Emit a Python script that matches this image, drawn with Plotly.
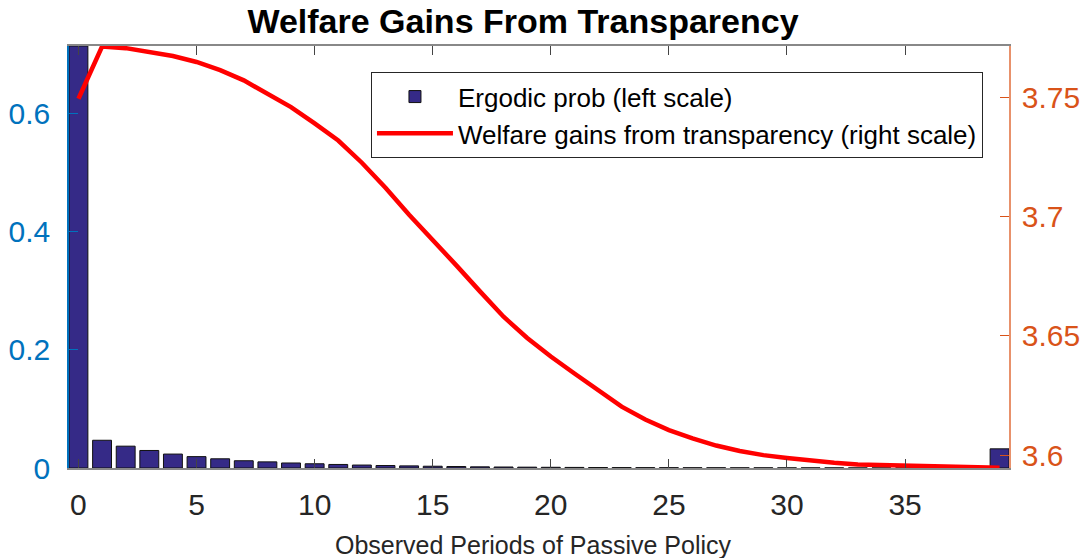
import plotly.graph_objects as go

periods = list(range(40))
ergodic_prob = [0.715, 0.047, 0.037, 0.0297, 0.0236, 0.0193, 0.0156, 0.0123, 0.0104, 0.0085,
                0.0072, 0.0060, 0.0050, 0.0042, 0.0036, 0.0030, 0.0025, 0.0020, 0.0017, 0.0014,
                0.0012, 0.0010, 0.0008, 0.0007, 0.0006, 0.0005, 0.0004, 0.0004, 0.0003, 0.0003,
                0.0002, 0.0002, 0.0002, 0.0001, 0.0001, 0.0001, 0.0001, 0.0001, 0.0001, 0.0325]
welfare_gains = [3.7493, 3.7712, 3.7705, 3.7690, 3.7672, 3.7647, 3.7613, 3.7570, 3.7515, 3.7458,
                 3.7390, 3.7318, 3.7225, 3.7120, 3.7007, 3.6903, 3.6795, 3.6686, 3.6580, 3.6491,
                 3.6413, 3.6342, 3.6272, 3.6203, 3.6149, 3.6105, 3.6070, 3.6040, 3.6017, 3.6000,
                 3.5988, 3.5977, 3.5968, 3.5961, 3.5958, 3.5955, 3.5952, 3.5950, 3.5948, 3.5947]
x_ticks = [0, 5, 10, 15, 20, 25, 30, 35]
left_ticks = [0, 0.2, 0.4, 0.6]
right_ticks = [3.6, 3.65, 3.7, 3.75]

FONT = "Liberation Sans, Arial, Helvetica, sans-serif"
BLUE = "#0072BD"
ORANGE = "#D95319"

W, H = 1085, 558

fig = go.Figure()
fig.add_trace(go.Bar(
    x=periods, y=ergodic_prob, width=0.8,
    marker=dict(color="#352A87", line=dict(color="#111111", width=1)),
    name="Ergodic prob (left scale)", yaxis="y",
))
fig.add_trace(go.Scatter(
    x=periods, y=welfare_gains, mode="lines",
    line=dict(color="#FF0000", width=4.5),
    name="Welfare gains from transparency (right scale)", yaxis="y2",
))

fig.update_layout(
    width=W, height=H,
    margin=dict(l=69, r=76, t=46, b=90, autoexpand=False),
    paper_bgcolor="white", plot_bgcolor="white",
    font=dict(family=FONT, color="#262626"),
    title=dict(text="<b>Welfare Gains From Transparency</b>", x=523 / W, xref="container",
               xanchor="center", y=1 - 21 / H, yref="container", yanchor="middle",
               font=dict(size=34, color="#000000", family=FONT)),
    showlegend=True,
    legend=dict(x=0.9723, xanchor="right", y=0.938, yanchor="top",
                bgcolor="white", bordercolor="#262626", borderwidth=1,
                font=dict(size=26, color="#000000", family=FONT),
                itemwidth=76, tracegroupgap=0),
    annotations=[dict(text="Observed Periods of Passive Policy", xref="paper", yref="paper",
                      x=(533 - 69) / 940, y=-(544 - 467.5) / 421.5, xanchor="center", yanchor="middle",
                      showarrow=False, font=dict(size=25, color="#262626", family=FONT))],
    xaxis=dict(range=[-0.4, 39.4], tickvals=x_ticks, ticks="inside", ticklen=9,
               tickcolor="#444444", showline=True, linecolor="#888888", linewidth=1.5,
               mirror="ticks", showgrid=False, zeroline=False, ticklabelstandoff=9,
               tickfont=dict(size=30, color="#262626")),
    yaxis=dict(range=[0, 0.715], tickvals=left_ticks, ticktext=["0", "0.2", "0.4", "0.6"],
               ticks="inside", ticklen=9, tickcolor=BLUE, ticklabelstandoff=11,
               showline=True, linecolor=BLUE, linewidth=1.5, showgrid=False, zeroline=False,
               tickfont=dict(size=30, color=BLUE)),
    yaxis2=dict(range=[3.5946, 3.7714], tickvals=right_ticks, ticktext=["3.6", "3.65", "3.7", "3.75"],
                overlaying="y", side="right", ticks="inside", ticklen=9, tickcolor=ORANGE,
                ticklabelstandoff=5,
                showline=True, linecolor="#E8916B", linewidth=1.5, showgrid=False, zeroline=False,
                tickfont=dict(size=30, color=ORANGE)),
    bargap=0.2,
)

fig.write_html("out.html", config={"displayModeBar": False},
               post_script="document.body.style.margin='0';")
